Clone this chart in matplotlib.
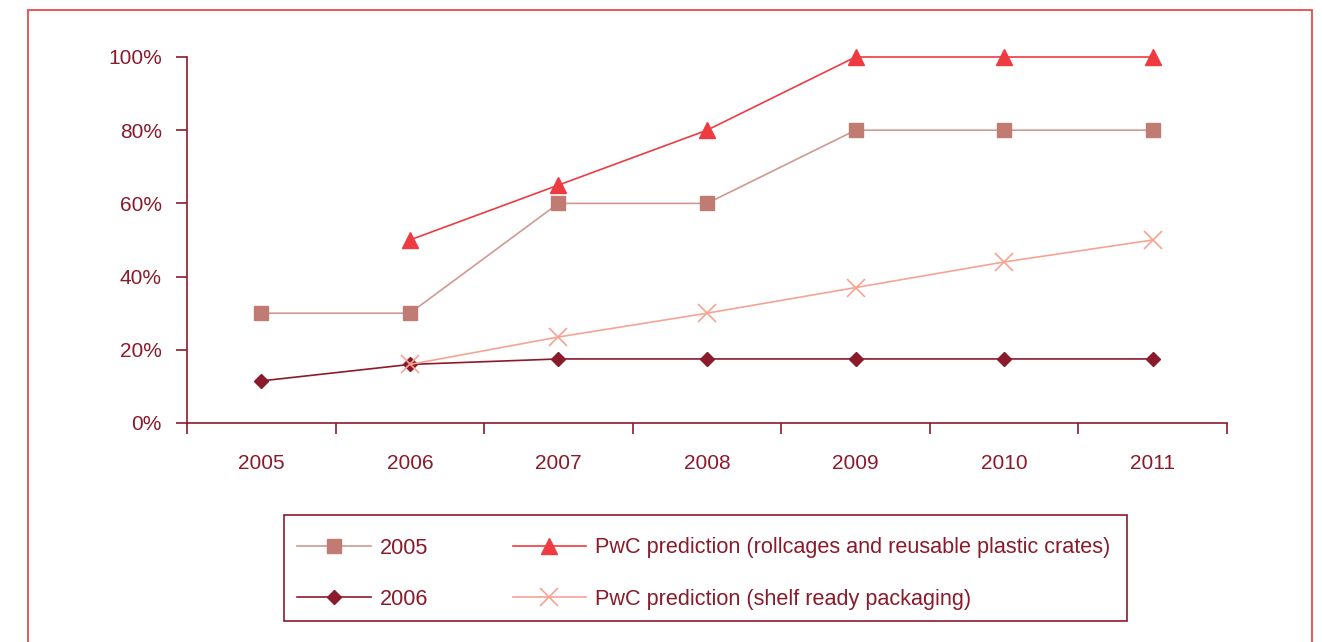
import matplotlib
matplotlib.use('Agg')
import matplotlib.pyplot as plt
from matplotlib.patches import Rectangle
from matplotlib.ticker import FuncFormatter

plt.rcParams['font.family'] = ['Liberation Sans', 'DejaVu Sans']

# ---- data ----
years = ['2005', '2006', '2007', '2008', '2009', '2010', '2011']
survey_2005 = [30, 30, 60, 60, 80, 80, 80]
survey_2006 = [11.5, 16, 17.5, 17.5, 17.5, 17.5, 17.5]
pwc_crates = [None, 50, 65, 80, 100, 100, 100]
pwc_srp = [None, 16, 23.5, 30, 37, 44, 50]

TXT = '#8B1A2B'
C_2005 = '#C07B72'
C_2005_LINE = '#CE9A92'
C_2006 = '#8B1A2A'
C_CRATES = '#EE3B42'
C_SRP = '#F7A393'

W, H = 1322, 642


def split(vals):
    xs = [i for i, v in enumerate(vals) if v is not None]
    return xs, [vals[i] for i in xs]


fig = plt.figure(figsize=(W / 100, H / 100), dpi=100)
ax = fig.add_axes([187 / W, 1 - 423 / H, (1227 - 187) / W, (423 - 57) / H])

x, y = split(survey_2005)
ax.plot(x, y, '-', color=C_2005_LINE, lw=1.2, marker='s', ms=10,
        mfc=C_2005, mec=C_2005, label='2005', clip_on=False, zorder=3)
x, y = split(pwc_crates)
ax.plot(x, y, '-', color=C_CRATES, lw=1.2, marker='^', ms=12,
        mfc=C_CRATES, mec=C_CRATES,
        label='PwC prediction (rollcages and reusable plastic crates)',
        clip_on=False, zorder=3)
x, y = split(survey_2006)
ax.plot(x, y, '-', color=C_2006, lw=1.2, marker='D', ms=7.5,
        mfc=C_2006, mec=C_2006, label='2006', clip_on=False, zorder=4)
x, y = split(pwc_srp)
ax.plot(x, y, '-', color=C_SRP, lw=1.2, marker='x', ms=13, mew=1.2,
        label='PwC prediction (shelf ready packaging)', clip_on=False, zorder=5)

ax.set_xlim(-0.5, len(years) - 0.5)
ax.set_ylim(0, 100)

# category boundaries carry the tick marks, labels sit at the centres
ax.set_xticks([i - 0.5 for i in range(len(years) + 1)])
ax.set_xticklabels([])
ax.set_xticks(range(len(years)), minor=True)
ax.set_xticklabels(years, minor=True)
ax.tick_params(axis='x', which='major', direction='out', length=8, width=1.2, color=TXT)
ax.tick_params(axis='x', which='minor', length=0, pad=22, labelsize=15, labelcolor=TXT)

ax.set_yticks(range(0, 101, 20))
ax.yaxis.set_major_formatter(FuncFormatter(lambda v, _: f'{int(v)}%'))
ax.tick_params(axis='y', direction='out', length=8, width=1.2, color=TXT,
               pad=10, labelsize=15, labelcolor=TXT)

for side in ['top', 'right']:
    ax.spines[side].set_visible(False)
for side in ['left', 'bottom']:
    ax.spines[side].set_color(TXT)
    ax.spines[side].set_linewidth(1.2)

# legend entries without their own frame; the box is drawn separately
handles, labels = ax.get_legend_handles_labels()
order = [0, 2, 1, 3]
leg = fig.legend([handles[i] for i in order], [labels[i] for i in order],
                 ncol=2, loc='upper left', bbox_to_anchor=(297 / W, 1 - 537.5 / H),
                 fontsize=15.6, frameon=False,
                 handlelength=3.4, columnspacing=3.89,
                 labelspacing=1.41, borderpad=0, borderaxespad=0,
                 handletextpad=0.42)
for t in leg.get_texts():
    t.set_color(TXT)

fig.patches.append(Rectangle((284 / W, 1 - 621 / H), (1127 - 284) / W, 106 / H,
                             transform=fig.transFigure, fill=False,
                             edgecolor=TXT, lw=1.2))

# outer frame
fig.patches.append(Rectangle((28 / W, -0.1), (1312 - 28) / W, 1.1 - 10 / H,
                             transform=fig.transFigure, fill=False,
                             edgecolor='#EE4A4A', lw=1.3))

fig.savefig('out.png', dpi=100)
